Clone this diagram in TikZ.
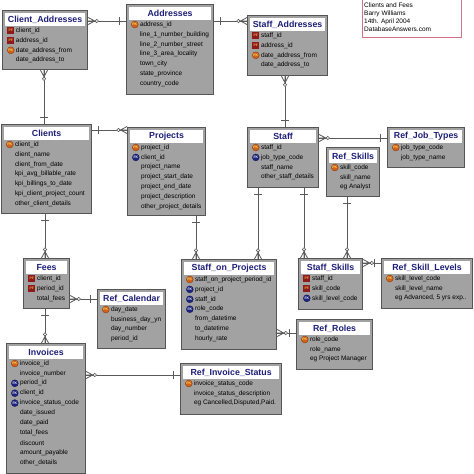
\documentclass[tikz,border=0pt]{standalone}
\usepackage{fontspec}
\setmainfont{Liberation Sans}
\usetikzlibrary{calc}
\definecolor{boxfill}{HTML}{A2A2A2}
\definecolor{boxline}{HTML}{555555}
\definecolor{titlecol}{HTML}{1E1E78}
\definecolor{connline}{HTML}{5A5A5A}
\definecolor{pkfill}{HTML}{D0601A}
\definecolor{pffill}{HTML}{8C1C1C}
\definecolor{fkfill}{HTML}{1C2480}
\definecolor{notecol}{HTML}{D07585}
\definecolor{pktext}{HTML}{FFE060}
\definecolor{pftext}{HTML}{FFB040}
\tikzset{
 ebox/.style={draw=boxline, fill=boxfill, line width=1.2pt, inner sep=0pt, anchor=north west},
 tband/.style={fill=white, inner sep=0pt, anchor=north, minimum height=12.5pt, font=\fontsize{8.8}{9}\selectfont\bfseries, text=titlecol},
 fld/.style={anchor=west, inner sep=0pt, font=\fontsize{6.5}{7}\selectfont},
 keyicon/.style={inner sep=0pt, minimum size=7pt, font=\fontsize{3.4}{3.4}\selectfont\bfseries},
 pk/.style={keyicon, circle, fill=pkfill, draw=pkfill!60!black, line width=0.3pt, text=pktext},
 pf/.style={keyicon, rectangle, fill=pffill, text=pftext},
 fk/.style={keyicon, circle, fill=fkfill, draw=fkfill!60!black, line width=0.3pt, text=white},
 conn/.style={draw=connline, line width=0.8pt},
 notebox/.style={draw=notecol, line width=0.7pt, inner sep=0pt, anchor=north west},
 notetext/.style={anchor=north west, inner sep=0pt, align=left, font=\fontsize{6.5}{8}\selectfont},
}
\newcommand\entity[6]{%
 \node[ebox, minimum width=#4pt, minimum height=#5pt] (#1) at (#2,#3) {};
 \node[tband, minimum width=#4pt-5pt] (#1t) at ($(#1.north)+(0,3)$) {#6};
}
\newcommand\frow[4]{%
 \node[fld] (#1f#2) at ($(#1.north west)+(13.8,{20.5+9.9*#2})$) {#4};
 \if\relax\detokenize{#3}\relax\else
 \node[#3] (#1k#2) at ($(#1.north west)+(8.8,{20.5+9.9*#2})$) {\MakeUppercase{#3}};
 \fi
}
\newcommand\manyend[2]{%
 \begin{scope}[shift={#1}, rotate=#2]
  \draw[conn] (0,3.5) -- (6.5,0) -- (0,-3.5) (0,0) -- (6.5,0);
  \draw[conn, fill=white, line width=0.6pt] (8.6,0) circle (1.7pt);
 \end{scope}}
\newcommand\oneend[2]{%
 \begin{scope}[shift={#1}, rotate=#2]
  \draw[conn] (6.5,-4) -- (6.5,4);
 \end{scope}}
\begin{document}
\begin{tikzpicture}[x=1pt, y=-1pt]
\useasboundingbox[fill=white] (0,0) rectangle (474,474);

% note
\node[notebox, minimum width=99pt, minimum height=39pt] (notebox) at (362,-2) {};
\node[notetext] (note) at (364,2.6) {Clients and Fees\\Barry Williams\\14th. April 2004\\DatabaseAnswers.com};

% entities
\entity{ca}{2}{10}{85}{59}{Client\_Addresses}
\frow{ca}{0}{pf}{client\_id}
\frow{ca}{1}{pf}{address\_id}
\frow{ca}{2}{pk}{date\_address\_from}
\frow{ca}{3}{}{date\_address\_to}

\entity{addr}{126}{4}{87}{90}{Addresses}
\frow{addr}{0}{pk}{address\_id}
\frow{addr}{1}{}{line\_1\_number\_building}
\frow{addr}{2}{}{line\_2\_number\_street}
\frow{addr}{3}{}{line\_3\_area\_locality}
\frow{addr}{4}{}{town\_city}
\frow{addr}{5}{}{state\_province}
\frow{addr}{6}{}{country\_code}

\entity{sa}{247}{15}{80}{60}{Staff\_Addresses}
\frow{sa}{0}{pf}{staff\_id}
\frow{sa}{1}{pf}{address\_id}
\frow{sa}{2}{pk}{date\_address\_from}
\frow{sa}{3}{}{date\_address\_to}

\entity{cl}{1}{124}{90}{89}{Clients}
\frow{cl}{0}{pk}{client\_id}
\frow{cl}{1}{}{client\_name}
\frow{cl}{2}{}{client\_from\_date}
\frow{cl}{3}{}{kpi\_avg\_billable\_rate}
\frow{cl}{4}{}{kpi\_billings\_to\_date}
\frow{cl}{5}{}{kpi\_client\_project\_count}
\frow{cl}{6}{}{other\_client\_details}

\entity{pr}{127}{127}{78}{88}{Projects}
\frow{pr}{0}{pk}{project\_id}
\frow{pr}{1}{fk}{client\_id}
\frow{pr}{2}{}{project\_name}
\frow{pr}{3}{}{project\_start\_date}
\frow{pr}{4}{}{project\_end\_date}
\frow{pr}{5}{}{project\_description}
\frow{pr}{6}{}{other\_project\_details}

\entity{st}{247}{127}{71}{60}{Staff}
\frow{st}{0}{pk}{staff\_id}
\frow{st}{1}{fk}{job\_type\_code}
\frow{st}{2}{}{staff\_name}
\frow{st}{3}{}{other\_staff\_details}

\entity{rs}{326}{147}{53}{49}{Ref\_Skills}
\frow{rs}{0}{pk}{skill\_code}
\frow{rs}{1}{}{skill\_name}
\frow{rs}{2}{}{eg Analyst}

\entity{rjt}{387}{127}{77}{40}{Ref\_Job\_Types}
\frow{rjt}{0}{pk}{job\_type\_code}
\frow{rjt}{1}{}{job\_type\_name}

\entity{fe}{23}{258}{46}{50}{Fees}
\frow{fe}{0}{pf}{client\_id}
\frow{fe}{1}{pf}{period\_id}
\frow{fe}{2}{}{total\_fees}

\entity{rc}{97}{289}{68}{59}{Ref\_Calendar}
\frow{rc}{0}{pk}{day\_date}
\frow{rc}{1}{}{business\_day\_yn}
\frow{rc}{2}{}{day\_number}
\frow{rc}{3}{}{period\_id}

\entity{sop}{181}{259}{95}{90}{Staff\_on\_Projects}
\frow{sop}{0}{pk}{staff\_on\_project\_period\_id}
\frow{sop}{1}{fk}{project\_id}
\frow{sop}{2}{fk}{staff\_id}
\frow{sop}{3}{fk}{role\_code}
\frow{sop}{4}{}{from\_datetime}
\frow{sop}{5}{}{to\_datetime}
\frow{sop}{6}{}{hourly\_rate}

\entity{ss}{298}{258}{64}{51}{Staff\_Skills}
\frow{ss}{0}{pf}{staff\_id}
\frow{ss}{1}{pf}{skill\_code}
\frow{ss}{2}{fk}{skill\_level\_code}

\entity{rsl}{381}{258}{91}{50}{Ref\_Skill\_Levels}
\frow{rsl}{0}{pk}{skill\_level\_code}
\frow{rsl}{1}{}{skill\_level\_name}
\frow{rsl}{2}{}{eg Advanced, 5 yrs exp..}

\entity{rr}{296}{319}{76}{50}{Ref\_Roles}
\frow{rr}{0}{pk}{role\_code}
\frow{rr}{1}{}{role\_name}
\frow{rr}{2}{}{eg Project Manager}

\entity{inv}{6}{343}{79}{130}{Invoices}
\frow{inv}{0}{pk}{invoice\_id}
\frow{inv}{1}{}{invoice\_number}
\frow{inv}{2}{fk}{period\_id}
\frow{inv}{3}{fk}{client\_id}
\frow{inv}{4}{fk}{invoice\_status\_code}
\frow{inv}{5}{}{date\_issued}
\frow{inv}{6}{}{date\_paid}
\frow{inv}{7}{}{total\_fees}
\frow{inv}{8}{}{discount}
\frow{inv}{9}{}{amount\_payable}
\frow{inv}{10}{}{other\_details}

\entity{ris}{180}{363}{101}{51}{Ref\_Invoice\_Status}
\frow{ris}{0}{pk}{invoice\_status\_code}
\frow{ris}{1}{}{invoice\_status\_description}
\frow{ris}{2}{}{eg Cancelled,Disputed,Paid.}

% connectors
\draw[conn] (ca.east |- 0,21) -- (addr.west |- 0,21);
\manyend{(ca.east |- 0,21)}{0}
\oneend{(addr.west |- 0,21)}{180}

\draw[conn] (addr.east |- 0,21) -- (sa.west |- 0,21);
\oneend{(addr.east |- 0,21)}{0}
\manyend{(sa.west |- 0,21)}{180}

\draw[conn] (ca.south -| 44,0) -- (cl.north -| 44,0);
\manyend{(ca.south -| 44,0)}{-90}
\oneend{(cl.north -| 44,0)}{90}

\draw[conn] (sa.south -| 285,0) -- (st.north -| 285,0);
\manyend{(sa.south -| 285,0)}{-90}
\oneend{(st.north -| 285,0)}{90}

\draw[conn] (cl.east |- 0,130) -- (pr.west |- 0,130);
\oneend{(cl.east |- 0,130)}{0}
\manyend{(pr.west |- 0,130)}{180}

\draw[conn] (cl.south -| 45,0) -- (fe.north -| 45,0);
\oneend{(cl.south -| 45,0)}{-90}
\manyend{(fe.north -| 45,0)}{90}

\draw[conn] (pr.south -| 196,0) -- (sop.north -| 196,0);
\oneend{(pr.south -| 196,0)}{-90}
\manyend{(sop.north -| 196,0)}{90}

\draw[conn] (st.south -| 258,0) -- (sop.north -| 258,0);
\oneend{(st.south -| 258,0)}{-90}
\manyend{(sop.north -| 258,0)}{90}

\draw[conn] (st.south -| 304,0) -- (ss.north -| 304,0);
\oneend{(st.south -| 304,0)}{-90}
\manyend{(ss.north -| 304,0)}{90}

\draw[conn] (rs.south -| 347,0) -- (ss.north -| 347,0);
\oneend{(rs.south -| 347,0)}{-90}
\manyend{(ss.north -| 347,0)}{90}

\draw[conn] (st.east |- 0,138) -- (rjt.west |- 0,138);
\manyend{(st.east |- 0,138)}{0}
\oneend{(rjt.west |- 0,138)}{180}

\draw[conn] (ss.east |- 0,263) -- (rsl.west |- 0,263);
\manyend{(ss.east |- 0,263)}{0}
\oneend{(rsl.west |- 0,263)}{180}

\draw[conn] (fe.east |- 0,299) -- (rc.west |- 0,299);
\manyend{(fe.east |- 0,299)}{0}
\oneend{(rc.west |- 0,299)}{180}

\draw[conn] (fe.south -| 45,0) -- (inv.north -| 45,0);
\oneend{(fe.south -| 45,0)}{-90}
\manyend{(inv.north -| 45,0)}{90}

\draw[conn] (sop.east |- 0,333) -- (rr.west |- 0,333);
\manyend{(sop.east |- 0,333)}{0}
\oneend{(rr.west |- 0,333)}{180}

\draw[conn] (inv.east |- 0,375) -- (ris.west |- 0,375);
\manyend{(inv.east |- 0,375)}{0}
\oneend{(ris.west |- 0,375)}{180}
\end{tikzpicture}
\end{document}
